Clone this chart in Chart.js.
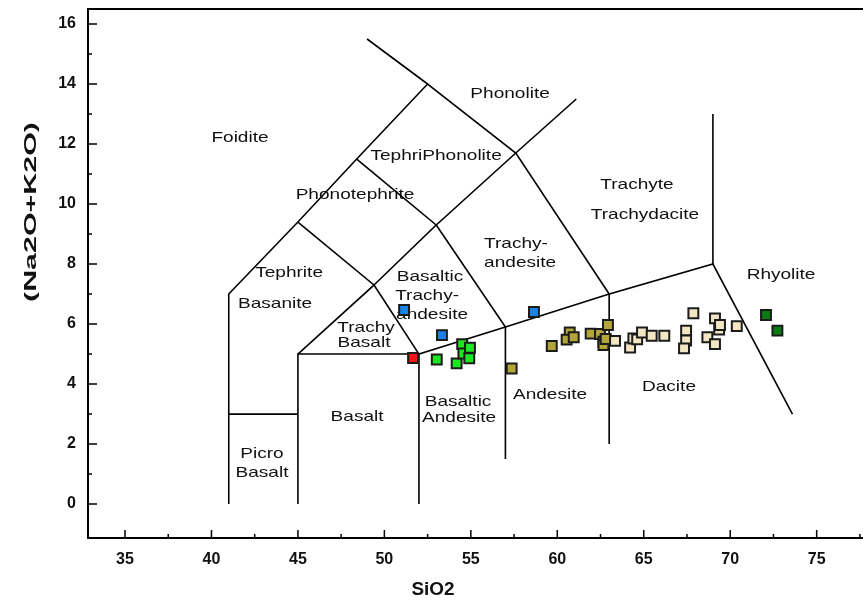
<!DOCTYPE html>
<html>
<head>
<meta charset="utf-8">
<script src="https://cdn.jsdelivr.net/npm/chart.js@4"></script>
<style>
  html, body { margin: 0; padding: 0; background: #fff; overflow: hidden; }
  #wrap { position: relative; width: 863px; height: 606px; }
</style>
</head>
<body>
<div id="wrap"><canvas id="tas"></canvas></div>
<script>
// ---- Sample analyses: [SiO2, Na2O+K2O] (wt%) ----
const blueSamples = [[51.14, 6.47], [53.33, 5.63], [58.65, 6.40]];
const redSamples = [[51.66, 4.87]];
const limeSamples = [[53.03, 4.82], [54.18, 4.69], [54.50, 5.33], [54.57, 5.02], [54.95, 5.21], [54.91, 4.86]];
const oliveSamples = [[57.36, 4.52], [59.68, 5.27], [60.72, 5.72], [60.54, 5.48], [60.95, 5.56],
  [61.93, 5.68], [62.47, 5.67], [62.93, 5.97], [62.67, 5.41], [62.67, 5.30], [62.80, 5.50]];
const creamSamples = [[63.34, 5.44], [64.21, 5.22], [64.40, 5.52], [64.62, 5.49], [64.90, 5.72],
  [65.46, 5.61], [66.19, 5.61], [67.87, 6.36], [67.45, 5.78], [67.45, 5.45], [67.33, 5.19],
  [69.12, 6.19], [69.36, 5.82], [69.41, 5.97], [68.68, 5.56], [69.12, 5.33], [70.38, 5.93]];
const darkGreenSamples = [[72.07, 6.30], [72.73, 5.78]];

// ---- TAS field boundaries (polylines) ----
const boundaryLines = [
  [[41, 0], [41, 7], [45, 9.4], [48.4, 11.5], [52.5, 14], [57.6, 11.7], [63, 7], [69, 8], [73.6, 3]],
  [[49, 15.5], [52.5, 14]],
  [[57.6, 11.7], [61.1, 13.5]],
  [[41, 3], [45, 3]],
  [[45, 0], [45, 5], [52, 5], [52, 0]],
  [[45, 5], [49.4, 7.3], [52, 5], [57, 5.9], [63, 7]],
  [[45, 9.4], [49.4, 7.3], [53, 9.3], [57, 5.9], [57, 1.5]],
  [[48.4, 11.5], [53, 9.3], [57.6, 11.7]],
  [[63, 7], [63, 2]],
  [[69, 8], [69, 13]]
];

// ---- Field names, anchored at [SiO2, Na2O+K2O] ----
const fieldNames = [
  ['Foidite', 41.65, 12.2], ['Phonolite', 57.27, 13.67], ['TephriPhonolite', 52.99, 11.6],
  ['Phonotephrite', 48.30, 10.3], ['Trachyte', 64.61, 10.63], ['Trachydacite', 65.07, 9.63],
  ['Trachy-', 57.61, 8.67], ['andesite', 57.85, 8.03], ['Tephrite', 44.49, 7.7],
  ['Basanite', 43.68, 6.67], ['Basaltic', 52.64, 7.57], ['Trachy-', 52.47, 6.93],
  ['andesite', 52.76, 6.3], ['Rhyolite', 72.94, 7.63], ['Trachy', 48.94, 5.87],
  ['Basalt', 48.82, 5.37], ['Basalt', 48.42, 2.9], ['Basaltic', 54.26, 3.4],
  ['Andesite', 54.32, 2.87], ['Andesite', 59.58, 3.63], ['Dacite', 66.46, 3.9],
  ['Picro', 42.92, 1.67], ['Basalt', 42.92, 1.03]
];

const xTitle = 'SiO2';
const yTitle = '(Na2O+K2O)';
const xMinorTicks = [37.5, 42.5, 47.5, 52.5, 57.5, 62.5, 67.5, 72.5, 77.5];
const yMinorTicks = [1, 3, 5, 7, 9, 11, 13, 15];

const toPts = arr => arr.map(([x, y]) => ({ x, y }));

function sampleSet(data, fill, order) {
  return {
    type: 'scatter', data: toPts(data), order,
    pointStyle: 'rect', pointRadius: 7, pointBorderWidth: 2,
    pointBackgroundColor: fill, pointBorderColor: '#1b1b1b', showLine: false
  };
}

const datasets = boundaryLines.map(line => ({
  type: 'line', data: toPts(line), order: 100,
  borderColor: '#000', borderWidth: 1.6, pointRadius: 0, fill: false, tension: 0
}));
datasets.push(sampleSet(oliveSamples, '#b4a53a', 5));
datasets.push(sampleSet(creamSamples, '#f3e7c3', 4));
datasets.push(sampleSet(blueSamples, '#1a84e6', 1));
datasets.push(sampleSet(redSamples, '#f01414', 1));
datasets.push(sampleSet(limeSamples, '#1ee61e', 1));
datasets.push(sampleSet(darkGreenSamples, '#0a7a14', 1));

function drawStretched(ctx, text, x, y, sx, angle) {
  ctx.save();
  ctx.translate(x, y);
  if (angle) ctx.rotate(angle);
  ctx.scale(sx, 1);
  ctx.fillText(text, 0, 0);
  ctx.restore();
}

const tasFrame = {
  id: 'tasFrame',
  beforeDatasetsDraw(chart) {
    const { ctx, scales: { x, y } } = chart;
    ctx.save();
    ctx.fillStyle = '#111';
    ctx.font = '15px "Liberation Sans", Arial, sans-serif';
    ctx.textAlign = 'center';
    ctx.textBaseline = 'middle';
    fieldNames.forEach(([t, sx, sy]) => {
      drawStretched(ctx, t, x.getPixelForValue(sx), y.getPixelForValue(sy), 1.27, 0);
    });
    ctx.restore();
  },
  afterDraw(chart) {
    const { ctx, chartArea: a, scales: { x, y } } = chart;
    ctx.save();
    ctx.strokeStyle = '#000';
    // top frame line
    ctx.lineWidth = 2;
    ctx.beginPath();
    ctx.moveTo(a.left, a.top);
    ctx.lineTo(a.right, a.top);
    ctx.stroke();
    // inward tick marks
    ctx.lineWidth = 1.5;
    ctx.beginPath();
    x.ticks.forEach(t => { const p = x.getPixelForValue(t.value); ctx.moveTo(p, a.bottom); ctx.lineTo(p, a.bottom - 8); });
    xMinorTicks.forEach(v => { const p = x.getPixelForValue(v); ctx.moveTo(p, a.bottom); ctx.lineTo(p, a.bottom - 4); });
    y.ticks.forEach(t => { const p = y.getPixelForValue(t.value); ctx.moveTo(a.left, p); ctx.lineTo(a.left + 9, p); });
    yMinorTicks.forEach(v => { const p = y.getPixelForValue(v); ctx.moveTo(a.left, p); ctx.lineTo(a.left + 4, p); });
    ctx.stroke();
    // axis titles
    ctx.fillStyle = '#111';
    ctx.font = 'bold 18px "Liberation Sans", Arial, sans-serif';
    ctx.textAlign = 'center';
    ctx.textBaseline = 'middle';
    drawStretched(ctx, xTitle, 433, 590, 1.05, 0);
    ctx.font = 'bold 17px "Liberation Sans", Arial, sans-serif';
    const w = ctx.measureText(yTitle).width;
    drawStretched(ctx, yTitle, 31, 212, 180 / w, -Math.PI / 2);
    ctx.restore();
  }
};

const tickFont = { family: '"Liberation Sans", Arial, sans-serif', size: 16, weight: 'bold' };

new Chart(document.getElementById('tas'), {
  type: 'scatter',
  data: { datasets },
  plugins: [tasFrame],
  options: {
    responsive: true, maintainAspectRatio: false, animation: false,
    devicePixelRatio: 1, events: [],
    layout: { autoPadding: false, padding: { top: 9, right: 0, left: 0, bottom: 0 } },
    plugins: { legend: { display: false }, tooltip: { enabled: false } },
    scales: {
      x: {
        type: 'linear', min: 32.86, max: 77.68,
        grid: { display: false, drawTicks: false },
        border: { display: true, width: 2, color: '#000' },
        ticks: { stepSize: 5, includeBounds: false, padding: 12, color: '#111', font: tickFont, maxRotation: 0 },
        afterFit: s => { s.height = 68; s.paddingLeft = 0; s.paddingRight = 0; }
      },
      y: {
        type: 'linear', min: -1.13, max: 16.5,
        grid: { display: false, drawTicks: false },
        border: { display: true, width: 2, color: '#000' },
        ticks: { stepSize: 2, includeBounds: false, padding: 12, color: '#111', font: tickFont },
        afterFit: s => { s.width = 88; s.paddingTop = 0; s.paddingBottom = 0; }
      }
    }
  }
});
</script>
</body>
</html>
